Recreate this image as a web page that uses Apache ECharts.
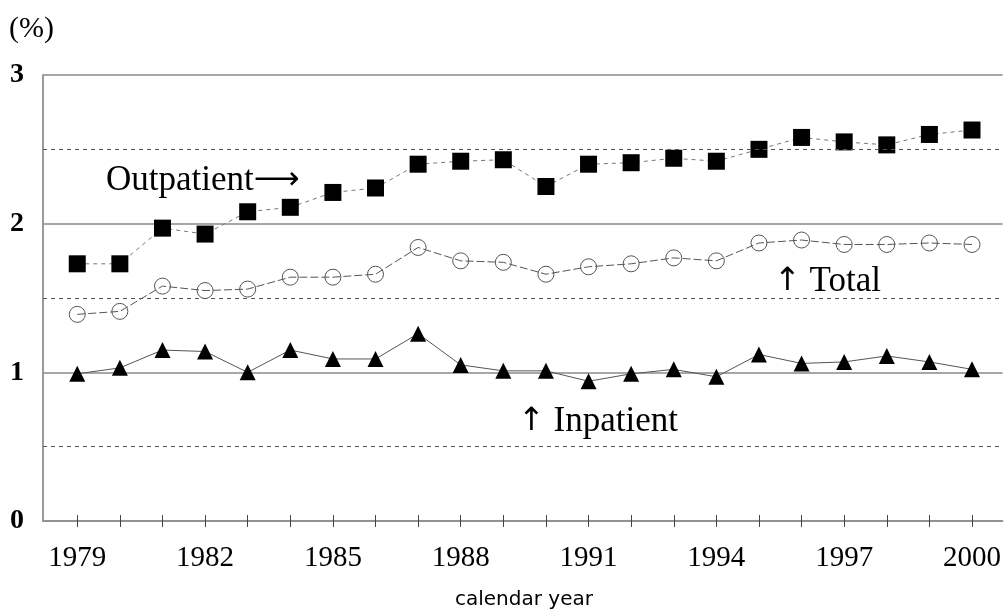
<!DOCTYPE html>
<html>
<head>
<meta charset="utf-8">
<script src="https://cdn.jsdelivr.net/npm/echarts@6/dist/echarts.min.js"></script>
<style>
  html, body { margin: 0; padding: 0; background: #fff; }
  #chart { width: 1004px; height: 611px; }
</style>
</head>
<body>
<div id="chart"></div>
<script>
const years = [1979, 1980, 1981, 1982, 1983, 1984, 1985, 1986, 1987, 1988, 1989,
               1990, 1991, 1992, 1993, 1994, 1995, 1996, 1997, 1998, 1999, 2000];
const labelYears = [1979, 1982, 1985, 1988, 1991, 1994, 1997, 2000];
const outpatient = [1.73, 1.73, 1.97, 1.93, 2.08, 2.11, 2.21, 2.24, 2.40, 2.42, 2.43,
                    2.25, 2.40, 2.41, 2.44, 2.42, 2.50, 2.58, 2.55, 2.53, 2.60, 2.63];
const total = [1.39, 1.41, 1.58, 1.55, 1.56, 1.64, 1.64, 1.66, 1.84, 1.75, 1.74,
               1.66, 1.71, 1.73, 1.77, 1.75, 1.87, 1.89, 1.86, 1.86, 1.87, 1.86];
const inpatient = [0.99, 1.03, 1.15, 1.14, 1.00, 1.15, 1.09, 1.09, 1.26, 1.05, 1.01,
                   1.01, 0.94, 0.99, 1.02, 0.97, 1.12, 1.06, 1.07, 1.11, 1.07, 1.02];
const halfLines = [0.5, 1.5, 2.5];

const serif = '"Liberation Serif", "DejaVu Serif", serif';
const arrowFont = '"DejaVu Sans", sans-serif';

function pairs(vals) {
    return years.map((y, i) => [y, vals[i]]);
}

// annotation with arrow drawn in a taller font
function note(left, top, parts) {
    return {
        type: 'text', left: left, top: top,
        style: {
            text: parts.map(p => '{' + p[0] + '|' + p[1] + '}').join(''),
            rich: {
                t: { fontFamily: serif, fontSize: 35, fill: '#000' },
                a: { fontFamily: arrowFont, fontSize: 32, fill: '#000' }
            }
        }
    };
}

let myCharts = echarts.init(document.getElementById('chart'));
let option = {
    animation: false,
    backgroundColor: '#fff',
    grid: { left: 43, right: 0, top: 75, bottom: 90 },
    xAxis: [
        {
            type: 'value',
            min: 1978.196,
            max: 2000.72,
            axisLine: { lineStyle: { color: '#8a8a8a', width: 1.5 } },
            axisTick: { customValues: years, length: 6, lineStyle: { color: '#444' } },
            axisLabel: {
                customValues: labelYears,
                formatter: v => String(v),
                margin: 23,
                fontFamily: serif,
                fontSize: 29,
                color: '#000'
            },
            splitLine: { show: false }
        },
        {
            type: 'value',
            min: 1978.196,
            max: 2000.72,
            position: 'bottom',
            axisLine: { show: false },
            axisTick: { customValues: years, inside: true, length: 6, lineStyle: { color: '#444' } },
            axisLabel: { show: false },
            splitLine: { show: false }
        }
    ],
    yAxis: {
        type: 'value',
        min: 0,
        max: 3,
        interval: 1,
        axisLine: { show: true, lineStyle: { color: '#9a9a9a', width: 2 } },
        axisTick: { show: false },
        axisLabel: {
            margin: 19,
            fontFamily: serif,
            fontWeight: 'bold',
            fontSize: 28,
            color: '#000'
        },
        splitLine: { lineStyle: { color: '#8a8a8a', width: 1.5 } }
    },
    graphic: [
        { type: 'text', left: 9, top: 14, style: { text: '(%)', font: '30px ' + serif, fill: '#000' } },
        note(106, 163, [['t', 'Outpatient'], ['a', '\u27f6']]),
        note(774, 264, [['a', '\u2191'], ['t', ' Total']]),
        note(518, 404, [['a', '\u2191'], ['t', ' Inpatient']]),
        { type: 'text', left: 455, top: 590, style: { text: 'calendar year', font: '20px "DejaVu Sans", sans-serif', fill: '#000' } }
    ],
    series: [
        {
            name: 'Half lines',
            type: 'line',
            data: [],
            silent: true,
            markLine: {
                symbol: 'none',
                silent: true,
                label: { show: false },
                lineStyle: { color: '#555', width: 1, type: [4, 4] },
                data: halfLines.map(v => ({ yAxis: v }))
            }
        },
        {
            name: 'Outpatient',
            type: 'line',
            data: pairs(outpatient),
            symbol: 'rect',
            symbolSize: 17,
            itemStyle: { color: '#000' },
            lineStyle: { color: '#777', width: 1, type: [4, 4] }
        },
        {
            name: 'Total',
            type: 'line',
            data: pairs(total),
            symbol: 'circle',
            symbolSize: 16,
            itemStyle: { color: 'transparent', borderColor: '#555', borderWidth: 1 },
            lineStyle: { color: '#555', width: 1, type: [8, 3] }
        },
        {
            name: 'Inpatient',
            type: 'line',
            data: pairs(inpatient),
            symbol: 'triangle',
            symbolSize: 16,
            itemStyle: { color: '#000' },
            lineStyle: { color: '#555', width: 1 }
        }
    ]
};
myCharts.setOption(option);
window.addEventListener('resize', function () {
    myCharts.resize();
});
</script>
</body>
</html>
